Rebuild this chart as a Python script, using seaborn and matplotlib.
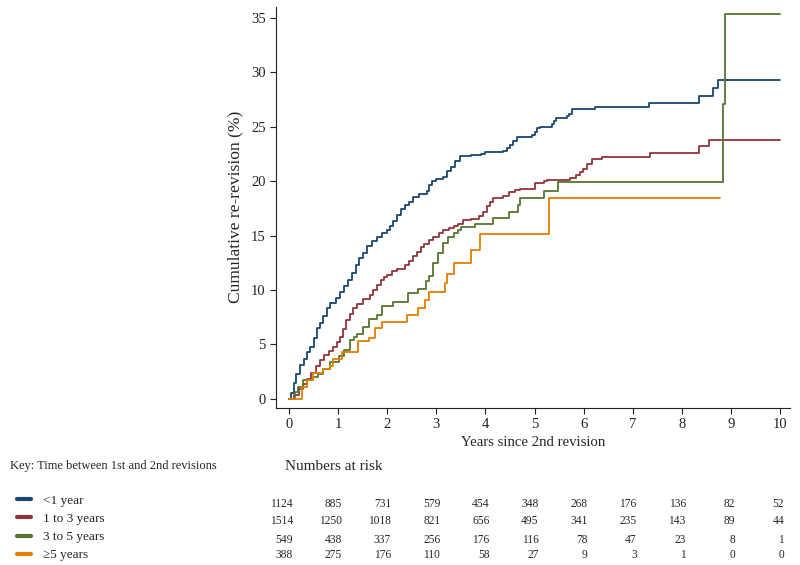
import matplotlib
matplotlib.use('Agg')
import matplotlib.pyplot as plt
from matplotlib.transforms import blended_transform_factory
import seaborn as sns
import numpy as np
import pandas as pd

# cumulative incidence step curves (time in years, % re-revised)
t_lt1 = [0, 0.05, 0.1, 0.15, 0.22, 0.3, 0.37, 0.43, 0.5, 0.56, 0.63, 0.7, 0.77,
         0.84, 0.95, 1.04, 1.12, 1.2, 1.28, 1.36, 1.43, 1.5, 1.58, 1.68, 1.79,
         1.9, 1.99, 2.06, 2.12, 2.2, 2.28, 2.36, 2.45, 2.53, 2.65, 2.8, 2.86,
         2.92, 3.0, 3.14, 3.22, 3.3, 3.38, 3.48, 3.7, 3.9, 4.0, 4.36, 4.43, 4.5,
         4.56, 4.64, 4.94, 5.0, 5.05, 5.1, 5.36, 5.4, 5.43, 5.66, 5.7, 5.76,
         6.23, 7.32, 8.34, 8.64, 8.74, 10.0]
v_lt1 = [0, 0.5, 1.5, 2.3, 3.1, 3.7, 4.3, 4.8, 5.6, 6.5, 7.0, 7.6, 8.3, 8.8,
         9.3, 9.8, 10.4, 10.9, 11.6, 12.3, 12.9, 13.4, 14.0, 14.5, 14.9, 15.2,
         15.5, 15.9, 16.3, 16.9, 17.4, 17.8, 18.1, 18.5, 18.8, 19.1, 19.6, 20.0,
         20.2, 20.4, 20.9, 21.3, 21.8, 22.3, 22.4, 22.5, 22.7, 22.8, 23.0, 23.3,
         23.7, 24.0, 24.2, 24.5, 24.9, 25.0, 25.2, 25.5, 25.8, 26.0, 26.2, 26.6,
         26.8, 27.2, 27.8, 28.5, 29.3, 29.3]

t_1to3 = [0, 0.1, 0.2, 0.28, 0.36, 0.45, 0.54, 0.63, 0.72, 0.81, 0.9, 0.98,
          1.04, 1.1, 1.17, 1.24, 1.31, 1.38, 1.51, 1.65, 1.72, 1.79, 1.87, 1.94,
          1.99, 2.1, 2.19, 2.36, 2.45, 2.53, 2.6, 2.68, 2.74, 2.85, 2.94, 3.05,
          3.14, 3.25, 3.35, 3.45, 3.55, 3.7, 3.86, 3.95, 4.03, 4.1, 4.16, 4.35,
          4.47, 4.6, 4.7, 5.0, 5.19, 5.25, 5.72, 5.85, 5.92, 5.99, 6.06, 6.16,
          6.37, 7.35, 8.35, 8.55, 10.0]
v_1to3 = [0, 0.4, 0.9, 1.4, 1.8, 2.4, 3.0, 3.6, 4.0, 4.4, 4.8, 5.2, 5.7, 6.4,
          7.2, 7.8, 8.3, 8.7, 9.2, 9.5, 10.0, 10.5, 10.9, 11.2, 11.4, 11.7, 11.9,
          12.3, 12.7, 13.1, 13.5, 13.9, 14.2, 14.6, 14.9, 15.2, 15.5, 15.7, 15.9,
          16.1, 16.4, 16.5, 16.8, 17.2, 17.7, 18.1, 18.4, 18.6, 19.0, 19.2, 19.3,
          19.8, 20.0, 20.1, 20.3, 20.6, 20.8, 21.1, 21.6, 22.0, 22.2, 22.6, 23.2,
          23.8, 23.8]

t_3to5 = [0, 0.12, 0.19, 0.29, 0.49, 0.6, 0.7, 0.84, 1.01, 1.11, 1.24, 1.32,
          1.38, 1.51, 1.62, 1.79, 1.89, 2.12, 2.43, 2.63, 2.78, 2.84, 2.94, 3.04,
          3.14, 3.24, 3.35, 3.45, 3.5, 3.79, 4.16, 4.47, 4.67, 4.7, 5.19, 5.47,
          8.83, 8.87, 10.0]
v_3to5 = [0, 0.6, 1.1, 1.75, 2.0, 2.3, 2.7, 3.4, 3.9, 4.5, 5.4, 5.7, 6.0, 6.6,
          7.3, 7.7, 8.5, 8.85, 9.7, 10.1, 10.8, 11.3, 12.5, 13.4, 14.3, 14.9,
          15.2, 15.5, 15.8, 16.1, 16.6, 17.2, 17.8, 18.4, 19.1, 19.9, 27.1, 35.3,
          35.3]

t_ge5 = [0, 0.26, 0.36, 0.49, 0.7, 0.84, 0.9, 1.07, 1.41, 1.62, 1.75, 1.89,
         2.40, 2.63, 2.77, 2.86, 3.18, 3.21, 3.35, 3.70, 3.89, 5.30, 8.78]
v_ge5 = [0, 1.1, 1.75, 2.35, 2.7, 3.0, 3.7, 4.3, 5.3, 5.6, 6.5, 7.1, 7.7, 8.3,
         9.1, 9.85, 10.6, 11.5, 12.5, 13.7, 15.1, 18.4, 18.4]

groups = ['<1 year', '1 to 3 years', '3 to 5 years', '\u22655 years']
colors = ['#1a476f', '#90353b', '#55752f', '#e37e00']

# numbers at risk at years 0..10
risk_years = list(range(11))
risk_lt1 = [1124, 885, 731, 579, 454, 348, 268, 176, 136, 82, 52]
risk_1to3 = [1514, 1250, 1018, 821, 656, 495, 341, 235, 143, 89, 44]
risk_3to5 = [549, 438, 337, 256, 176, 116, 78, 47, 23, 8, 1]
risk_ge5 = [388, 275, 176, 110, 58, 27, 9, 3, 1, 0, 0]

frames = []
for g, t, v in zip(groups, [t_lt1, t_1to3, t_3to5, t_ge5],
                   [v_lt1, v_1to3, v_3to5, v_ge5]):
    frames.append(pd.DataFrame({'years': t, 'pct': v, 'group': g}))
df = pd.concat(frames, ignore_index=True)

##################################################################################
sns.set_style('ticks')
plt.rcParams['font.family'] = ['Liberation Serif', 'DejaVu Serif']

fig = plt.figure(figsize=(8, 5.65), dpi=100)
ax = fig.add_axes([0.345, 0.278, 0.6425, 0.71])

sns.lineplot(data=df, x='years', y='pct', hue='group', hue_order=groups,
             palette=colors, drawstyle='steps-post', estimator=None,
             sort=False, linewidth=1.3, ax=ax)

ax.set_xlim(-0.265, 10.2)
ax.set_ylim(-0.83, 36.0)
ax.set_xticks(range(11))
ax.set_yticks(range(0, 36, 5))
sns.despine(ax=ax)
ax.tick_params(labelsize=10.5, length=4, width=0.8, colors='#222222')
for s in ['left', 'bottom']:
    ax.spines[s].set_linewidth(0.8)
    ax.spines[s].set_color('#222222')
ax.set_xlabel('Years since 2nd revision', fontsize=10.6)
ax.set_ylabel('Cumulative re-revision (%)', fontsize=12.6)
ax.xaxis.labelpad = 3.5
ax.yaxis.labelpad = 5

# key
sns.move_legend(ax, 'upper left', bbox_to_anchor=(0.021, 0.1245),
                bbox_transform=fig.transFigure, title=None, frameon=False,
                fontsize=9.5, handlelength=1.1, handletextpad=0.9,
                labelspacing=0.45, borderaxespad=0, borderpad=0)
for h in ax.get_legend().get_lines():
    h.set_linewidth(3)
fig.text(0.012, 0.175, 'Key: Time between 1st and 2nd revisions', fontsize=9,
         va='center', ha='left')

# numbers at risk table
fig.text(0.356, 0.174, 'Numbers at risk', fontsize=11, va='center', ha='left')
trans = blended_transform_factory(ax.transData, fig.transFigure)
row_y = [0.108, 0.077, 0.045, 0.018]
for y, row in zip(row_y, [risk_lt1, risk_1to3, risk_3to5, risk_ge5]):
    for x, n in zip(risk_years, row):
        ax.text(x + 0.08, y, str(n), transform=trans, fontsize=8.3,
                ha='right', va='center')

plt.savefig('out.png', dpi=100)
